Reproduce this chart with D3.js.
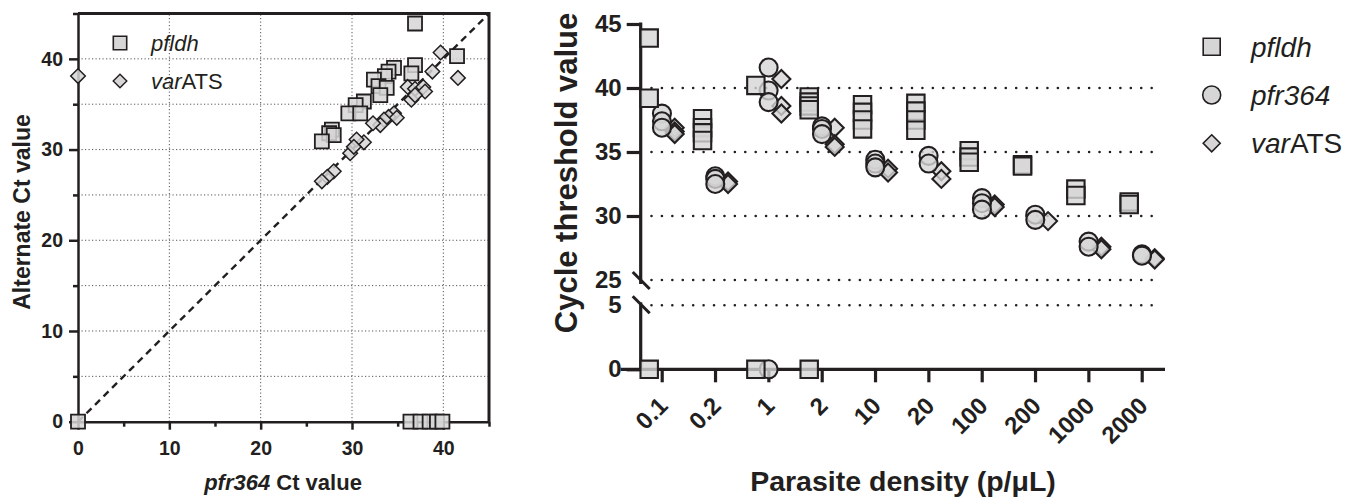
<!DOCTYPE html>
<html><head><meta charset="utf-8">
<script src="https://cdn.jsdelivr.net/npm/d3@7"></script>
<style>
body{margin:0;background:#fff}
svg{display:block;font-family:"Liberation Sans",Arial,sans-serif}
</style>
</head><body><div id="chart"></div>
<script>
// left panel: [pfr364 Ct, alternate Ct]
var pfldhPairs = [[36.9,43.9],[41.5,40.3],[36.9,39.3],[36.5,38.4],[34.6,39.0],[34.0,38.6],[33.6,38.1],
	[32.4,37.7],[32.9,37.0],[33.8,36.8],[33.1,36.0],[31.3,35.3],[30.4,34.9],[29.6,34.0],[30.9,34.0],
	[27.8,32.2],[27.5,31.8],[28.0,31.6],[26.7,30.9],[0,0],[36.4,0],[37.5,0],[38.5,0],[39.3,0],[39.9,0]];
var varatsPairs = [[0,38.1],[39.7,40.7],[38.8,38.6],[41.6,37.9],[36.1,36.9],[36.9,36.7],[37.8,36.9],
	[38.0,36.4],[36.5,35.5],[36.9,36.0],[34.6,34.0],[34.0,33.6],[34.9,33.5],[33.5,33.3],[33.1,32.7],
	[32.3,32.9],[31.3,30.8],[30.5,31.1],[29.8,29.6],[30.2,30.3],[28.0,27.6],[27.3,27.0],[26.7,26.5]];

// right panel
var densities = ["0.1","0.2","1","2","10","20","100","200","1000","2000"];
var targets = ["pfldh","pfr364","varATS"];
var pfldhCt = [[43.9,39.2,0],[37.6,36.9,36.5,35.9],[40.2,0],[39.3,38.9,38.6,38.3,0],[38.7,38.1,37.5,36.8],
	[38.8,38.2,37.5,36.7],[35.1,34.6,34.2],[34.0,33.9],[32.1,31.6],[31.1,30.9]];
var pfr364Ct = [[38.0,37.4,36.9],[33.1,32.9,32.5],[41.6,39.8,38.9,0],[37.0,36.8,36.4],[34.4,34.1,33.8],
	[34.7,34.1],[31.4,31.0,30.5],[30.1,29.7],[28.0,27.6],[27.0,26.9]];
var varatsCt = [[36.9,36.6,36.4],[32.7,32.5],[40.7,38.6,38.0],[36.9,35.6,35.4],[33.7,33.4],[33.5,32.9],
	[30.9,30.7],[29.6],[27.6,27.4],[26.7,26.6]];

var fill = "#d6d6d6", ink = "#231f20", font = "Liberation Sans, Arial, sans-serif";

function marker(shape, r) {
	if (shape == "square") return "M" + (-r) + "," + (-r) + "H" + r + "V" + r + "H" + (-r) + "Z";
	if (shape == "diamond") return "M0," + (-r) + "L" + r + ",0L0," + r + "L" + (-r) + ",0Z";
	return "M" + (-r) + ",0A" + r + "," + r + " 0 1,0 " + r + ",0A" + r + "," + r + " 0 1,0 " + (-r) + ",0Z";
}

var svg = d3.select("#chart").append("svg").attr("width", 1352).attr("height", 503);
svg.append("rect").attr("width", 1352).attr("height", 503).attr("fill", "#fff");

// ---------- left scatter ----------
var lx = d3.scaleLinear().domain([0, 45]).range([78, 489]);
var ly = d3.scaleLinear().domain([0, 45]).range([421.7, 13.5]);
var gl = svg.append("g");

gl.selectAll(".hg").data(d3.range(5, 45, 5)).enter().append("line")
	.attr("x1", lx(0)).attr("x2", lx(45)).attr("y1", function(d) { return ly(d); })
	.attr("y2", function(d) { return ly(d); })
	.attr("stroke", "#555").attr("stroke-width", 1).attr("stroke-dasharray", "1.2,2.3");
gl.selectAll(".vg").data([10, 20, 30, 40]).enter().append("line")
	.attr("y1", ly(0)).attr("y2", ly(45)).attr("x1", function(d) { return lx(d); })
	.attr("x2", function(d) { return lx(d); })
	.attr("stroke", "#555").attr("stroke-width", 1).attr("stroke-dasharray", "1.2,2.3");

gl.append("line").attr("x1", lx(0)).attr("y1", ly(0)).attr("x2", lx(45)).attr("y2", ly(45))
	.attr("stroke", ink).attr("stroke-width", 2.4).attr("stroke-dasharray", "7,5");

gl.append("path").attr("d", "M" + lx(0) + "," + ly(45) + "H" + lx(45) + "V" + ly(0))
	.attr("fill", "none").attr("stroke", ink).attr("stroke-width", 3);

gl.append("g").attr("transform", "translate(0," + ly(0) + ")")
	.call(d3.axisBottom(lx).tickValues([0, 10, 20, 30, 40]).tickSize(8).tickSizeOuter(0).tickPadding(11));
gl.append("g").attr("transform", "translate(0," + ly(0) + ")")
	.call(d3.axisBottom(lx).tickValues([5, 15, 25, 35, 45]).tickSize(5).tickFormat(""))
	.select(".domain").remove();
gl.append("g").attr("transform", "translate(" + lx(0) + ",0)")
	.call(d3.axisLeft(ly).tickValues([0, 10, 20, 30, 40]).tickSize(9).tickSizeOuter(0).tickPadding(6));
gl.append("g").attr("transform", "translate(" + lx(0) + ",0)")
	.call(d3.axisLeft(ly).tickValues([5, 15, 25, 35, 45]).tickSize(5).tickFormat(""))
	.select(".domain").remove();
gl.selectAll(".domain, .tick line").attr("stroke", ink).attr("stroke-width", 2.5);
gl.selectAll(".tick text").attr("fill", ink).attr("font-size", 19.5).attr("font-weight", "bold")
	.attr("font-family", font);

gl.selectAll(".sq").data(pfldhPairs).enter().append("path")
	.attr("d", marker("square", 7))
	.attr("transform", function(d) { return "translate(" + lx(d[0]) + "," + ly(d[1]) + ")"; })
	.attr("fill", fill).attr("fill-opacity", 0.85).attr("stroke", ink).attr("stroke-width", 1.8);
gl.selectAll(".dm").data(varatsPairs).enter().append("path")
	.attr("d", marker("diamond", 7.3))
	.attr("transform", function(d) { return "translate(" + lx(d[0]) + "," + ly(d[1]) + ")"; })
	.attr("fill", fill).attr("fill-opacity", 0.85).attr("stroke", ink).attr("stroke-width", 1.5);

// left legend
gl.append("path").attr("d", marker("square", 6.7)).attr("transform", "translate(120,43)")
	.attr("fill", fill).attr("stroke", ink).attr("stroke-width", 1.6);
gl.append("path").attr("d", marker("diamond", 6.8)).attr("transform", "translate(120,81)")
	.attr("fill", fill).attr("stroke", ink).attr("stroke-width", 1.4);
gl.append("text").attr("x", 151).attr("y", 51).attr("font-size", 22).attr("font-style", "italic")
	.attr("fill", ink).text("pfldh");
var lv = gl.append("text").attr("x", 151).attr("y", 89).attr("font-size", 22).attr("fill", ink);
lv.append("tspan").attr("font-style", "italic").text("var");
lv.append("tspan").text("ATS");

gl.append("text").attr("transform", "translate(30,212) rotate(-90)").attr("text-anchor", "middle")
	.attr("font-size", 23).attr("font-weight", "bold").attr("fill", ink).text("Alternate Ct value");
var lt = gl.append("text").attr("x", 283).attr("y", 490).attr("text-anchor", "middle")
	.attr("font-size", 22).attr("font-weight", "bold").attr("fill", ink);
lt.append("tspan").attr("font-style", "italic").text("pfr364");
lt.append("tspan").text(" Ct value");

// ---------- right dot plot ----------
var x = d3.scalePoint().domain(densities).range([661.7, 1141.7]);
var dx = d3.scalePoint().domain(targets).range([-12.5, 13]);
var yHi = d3.scaleLinear().domain([25, 45]).range([280, 24]);
var yLo = d3.scaleLinear().domain([0, 5]).range([369.3, 305.3]);
function y(v) { return v >= 25 ? yHi(v) : yLo(v); }
var axX0 = 640.7, axX1 = 1165;
var gr = svg.append("g");

gr.selectAll(".grid").data([40, 35, 30, 25, 5]).enter().append("line")
	.attr("x1", 651.5).attr("x2", 1156).attr("y1", function(d) { return y(d); })
	.attr("y2", function(d) { return y(d); })
	.attr("stroke", ink).attr("stroke-width", 2.6).attr("stroke-linecap", "round")
	.attr("stroke-dasharray", "0,10.42");

var yHiAxis = gr.append("g").attr("transform", "translate(" + axX0 + ",0)")
	.call(d3.axisLeft(yHi).tickValues([25, 30, 35, 40, 45]).tickSize(14).tickSizeOuter(0).tickPadding(5));
var yLoAxis = gr.append("g").attr("transform", "translate(" + axX0 + ",0)")
	.call(d3.axisLeft(yLo).tickValues([0, 5]).tickFormat(d3.format("d")).tickSize(14).tickSizeOuter(0).tickPadding(5));
yHiAxis.select(".domain").attr("d", "M0," + (yHi(45) - 1.5) + "V" + (yHi(25) + 4));
yLoAxis.select(".domain").attr("d", "M0," + (yLo(5) - 3) + "V" + yLo(0));
gr.selectAll(".tick").filter(function(d) { return d == 25 || d == 5; }).select("line").remove();

var xAxis = gr.append("g").attr("transform", "translate(0," + yLo(0) + ")")
	.call(d3.axisBottom(x).tickSize(13).tickSizeOuter(0));
xAxis.select(".domain").attr("d", "M" + (axX0 - 20) + ",0H" + axX1);
xAxis.selectAll(".tick text").attr("text-anchor", "end").attr("dy", null).attr("y", 0)
	.attr("transform", "translate(7,38) rotate(-45)");

gr.selectAll(".domain, .tick line").attr("stroke", ink).attr("stroke-width", 3.2);
gr.selectAll(".tick text").attr("fill", ink).attr("font-size", 24).attr("font-weight", "bold")
	.attr("font-family", font);

// axis break marks
[yHi(25), yLo(5) - 1].forEach(function(v) {
	gr.append("line").attr("x1", axX0 - 8).attr("y1", v - 8).attr("x2", axX0 + 9).attr("y2", v + 9)
		.attr("stroke", ink).attr("stroke-width", 3);
});

function flatten(vals, name) {
	var out = [];
	vals.forEach(function(list, i) {
		list.forEach(function(v) { out.push({ cat: densities[i], t: name, v: v }); });
	});
	return out;
}
var layers = [["varATS", varatsCt, "diamond", 9], ["pfr364", pfr364Ct, "circle", 9], ["pfldh", pfldhCt, "square", 8.7]];
layers.forEach(function(l) {
	gr.append("g").selectAll("path").data(flatten(l[1], l[0])).enter().append("path")
		.attr("d", marker(l[2], l[3]))
		.attr("transform", function(d) { return "translate(" + (x(d.cat) + dx(d.t)) + "," + y(d.v) + ")"; })
		.attr("fill", fill).attr("fill-opacity", 0.8).attr("stroke", ink).attr("stroke-width", 2.1);
});

// right legend
var legShapes = [["square", 8.5], ["circle", 9], ["diamond", 8.5]];
targets.forEach(function(t, i) {
	var ly0 = 46.7 + i * 48.3;
	gr.append("path").attr("d", marker(legShapes[i][0], legShapes[i][1]))
		.attr("transform", "translate(1211.7," + ly0 + ")")
		.attr("fill", fill).attr("stroke", ink).attr("stroke-width", 1.6);
	var tx = gr.append("text").attr("x", 1251).attr("y", ly0 + 10).attr("font-size", 28).attr("fill", ink);
	if (t == "varATS") {
		tx.append("tspan").attr("font-style", "italic").text("var");
		tx.append("tspan").text("ATS");
	} else {
		tx.attr("font-style", "italic").text(t);
	}
});

gr.append("text").attr("transform", "translate(577,173) rotate(-90)").attr("text-anchor", "middle")
	.attr("font-size", 31).attr("font-weight", "bold").attr("fill", ink).text("Cycle threshold value");
gr.append("text").attr("x", 903).attr("y", 491).attr("text-anchor", "middle")
	.attr("font-size", 28.5).attr("font-weight", "bold").attr("fill", ink).text("Parasite density (p/\u03bcL)");
</script></body></html>
